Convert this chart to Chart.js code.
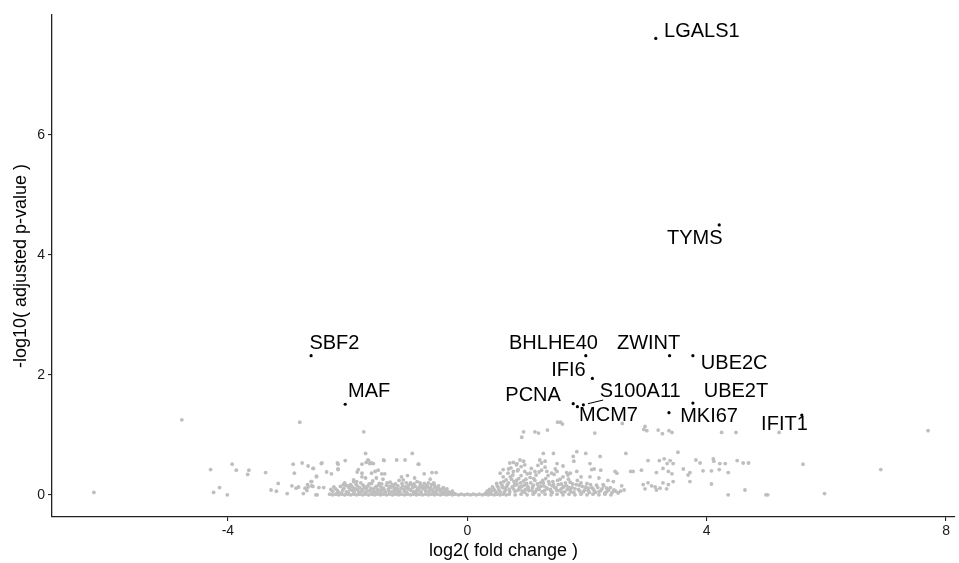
<!DOCTYPE html>
<html>
<head>
<meta charset="utf-8">
<title>Volcano plot</title>
<script src="https://cdn.jsdelivr.net/npm/chart.js@4.4.1/dist/chart.umd.min.js"></script>
<style>
  html, body { margin: 0; padding: 0; background: #fff; }
  #wrap { width: 959px; height: 563px; }
</style>
</head>
<body>
<div id="wrap"><canvas id="volcano"></canvas></div>
<script>
// axis ticks
const xTicks = [-4, 0, 4, 8];
const yTicks = [0, 2, 4, 6];

// labelled genes: [log2FC, -log10 padj]
const geneNames = ['LGALS1', 'TYMS', 'SBF2', 'MAF', 'BHLHE40', 'ZWINT', 'UBE2C', 'IFI6',
                   'PCNA', 'MCM7', 'S100A11', 'UBE2T', 'MKI67', 'IFIT1'];
const geneX = [3.15, 4.21, -2.61, -2.04, 1.98, 3.38, 3.77, 2.09, 1.77, 1.84, 1.94, 3.77, 3.37, 5.59];
const geneY = [7.61, 4.50, 2.32, 1.51, 2.32, 2.32, 2.32, 1.94, 1.52, 1.47, 1.50, 1.53, 1.37, 1.33];
// where the repelled labels ended up (centre, data units)
const labelX = [3.92, 3.80, -2.22, -1.64, 1.44, 3.03, 4.46, 1.69, 1.10, 2.36, 2.89, 4.49, 4.04, 5.30];
const labelY = [7.73, 4.27, 2.52, 1.72, 2.52, 2.52, 2.19, 2.08, 1.65, 1.33, 1.73, 1.73, 1.30, 1.18];
const labelSegment = [false, false, false, false, false, false, false, false,
                      false, false, true, false, false, false];

// non-significant genes, sparse ones
const sparsePts = [
  [-6.24, 0.04], [-4.77, 1.25], [-2.80, 1.21], [-1.73, 1.05],
  [-4.29, 0.42], [-3.93, 0.51], [-3.86, 0.41], [-3.65, 0.41], [-3.67, 0.34], [-3.37, 0.37],
  [-4.24, 0.04], [-4.14, 0.12], [-4.01, 0.00], [-3.28, 0.08], [-3.19, 0.06], [-3.16, 0.19], [-3.01, 0.02],
  [-2.91, 0.51], [-2.89, 0.36], [-2.76, 0.53], [-2.66, 0.48], [-2.58, 0.44], [-2.52, 0.30], [-2.61, 0.22],
  [-2.93, 0.15], [-2.86, 0.11], [-2.82, 0.13], [-2.71, 0.11], [-2.66, 0.13], [-2.60, 0.15], [-2.68, 0.07],
  [-2.74, 0.02], [-2.53, 0.00], [-2.44, 0.52], [-2.16, 0.51], [-2.04, 0.57], [-1.70, 0.69], [-1.66, 0.58],
  [-1.69, 0.54], [-1.60, 0.53], [-1.40, 0.58], [-1.18, 0.58], [-1.04, 0.58], [-0.92, 0.69], [-0.82, 0.51],
  [-2.43, 0.53], [-2.17, 0.53], [-1.39, 0.57], [-1.65, 0.57], [-1.63, 0.52], [-1.57, 0.52], [-1.76, 0.51],
  [-0.81, 0.51], [-2.57, 0.44], [-2.16, 0.42], [-2.35, 0.38], [-2.27, 0.35], [-2.52, 0.31], [-1.82, 0.42],
  [-1.76, 0.36], [-1.60, 0.36], [-1.54, 0.39], [-1.49, 0.41], [-1.43, 0.35], [-1.38, 0.35], [-1.00, 0.32],
  [-1.07, 0.25], [-0.72, 0.35], [-0.59, 0.37], [-0.52, 0.37], [-1.90, 0.22], [-2.07, 0.17], [-2.60, 0.22],
  [-2.67, 0.17], [-2.58, 0.14], [-2.48, 0.12], [-2.40, 0.12], [-2.51, 0.00], [-1.84, 0.38], [-2.16, 0.43],
  [1.51, 1.21], [1.56, 1.21], [1.59, 1.18], [0.94, 1.05], [0.91, 0.96], [1.13, 1.05], [1.19, 1.03],
  [1.34, 1.08], [2.13, 1.03], [2.59, 1.19], [2.95, 1.09],
  [1.27, 0.69], [1.44, 0.69], [1.83, 0.72], [1.98, 0.69], [2.22, 0.64], [2.65, 0.69],
  [0.88, 0.58], [0.94, 0.56], [0.96, 0.50], [0.71, 0.53], [0.77, 0.54], [0.83, 0.52],
  [1.21, 0.58], [1.24, 0.53], [1.30, 0.56], [1.50, 0.52], [1.77, 0.64], [1.78, 0.56],
  [2.05, 0.52], [2.08, 0.42], [2.12, 0.43], [2.23, 0.41], [2.47, 0.39], [2.50, 0.36], [2.73, 0.39],
  [1.83, 0.39], [1.72, 0.36], [1.50, 0.39], [1.66, 0.37],
  [0.55, 0.36], [0.60, 0.42], [0.69, 0.43], [0.77, 0.39], [0.85, 0.42], [0.96, 0.39], [1.05, 0.36],
  [1.13, 0.39], [1.24, 0.41], [1.33, 0.39], [1.41, 0.36],
  [2.58, 0.15], [2.62, 0.08], [2.44, 0.22], [2.27, 0.17], [2.33, 0.11],
  [2.97, 1.14], [3.00, 1.07], [3.19, 1.08], [3.26, 1.02], [3.37, 1.07], [3.42, 1.04], [4.25, 1.04], [4.49, 1.04],
  [3.52, 0.71], [3.02, 0.57], [3.21, 0.57], [3.29, 0.60], [3.34, 0.52], [3.44, 0.52], [3.39, 0.57],
  [3.82, 0.58], [3.89, 0.53], [4.11, 0.60], [4.12, 0.56], [4.22, 0.52], [4.31, 0.52], [4.51, 0.57],
  [4.61, 0.53], [4.70, 0.53],
  [2.77, 0.39], [2.91, 0.41], [3.16, 0.37], [3.27, 0.44], [3.36, 0.39], [3.42, 0.35], [3.61, 0.43],
  [3.72, 0.37], [3.69, 0.33], [3.94, 0.40], [4.08, 0.40], [4.21, 0.42], [4.36, 0.37],
  [2.94, 0.17], [3.02, 0.20], [3.08, 0.15], [3.14, 0.13], [2.97, 0.10], [3.22, 0.11], [3.27, 0.20],
  [3.36, 0.17], [3.44, 0.22], [3.33, 0.10], [3.16, 0.08], [3.72, 0.22], [4.08, 0.18],
  [4.36, 0.00], [4.64, 0.08], [4.99, 0.00], [5.02, 0.00], [5.97, 0.02], [5.61, 0.51], [6.91, 0.42],
  [7.70, 1.07], [5.21, 1.04]
];

// dense cloud of genes near zero
const densePts = [
  [-2.25, 0.06], [-2.20, 0.10], [-2.15, 0.04], [-2.12, 0.14], [-2.08, 0.08], [-2.05, 0.20], [-2.02, 0.05],
  [-1.98, 0.12], [-1.95, 0.17], [-1.92, 0.07], [-1.90, 0.25], [-1.87, 0.10], [-1.84, 0.15], [-1.81, 0.04],
  [-1.78, 0.20], [-1.75, 0.09], [-1.72, 0.13], [-1.70, 0.28], [-1.67, 0.06], [-1.64, 0.18], [-1.61, 0.11],
  [-1.58, 0.23], [-1.55, 0.05], [-1.52, 0.14], [-1.50, 0.09], [-1.47, 0.19], [-1.44, 0.12], [-1.41, 0.26],
  [-1.38, 0.07], [-1.35, 0.16], [-1.32, 0.10], [-1.29, 0.21], [-1.26, 0.05], [-1.23, 0.13], [-1.20, 0.18],
  [-1.17, 0.08], [-1.14, 0.24], [-1.11, 0.11], [-1.08, 0.15], [-1.05, 0.06], [-1.02, 0.20], [-0.99, 0.12],
  [-0.96, 0.09], [-0.93, 0.17], [-0.90, 0.05], [-0.87, 0.14], [-0.84, 0.22], [-0.81, 0.08], [-0.78, 0.16],
  [-0.75, 0.11], [-0.72, 0.19], [-0.69, 0.06], [-0.66, 0.13], [-0.63, 0.09], [-0.60, 0.17], [-0.57, 0.05],
  [-0.54, 0.12], [-0.51, 0.08], [-0.48, 0.15], [-0.45, 0.06], [-0.42, 0.10], [-0.39, 0.04], [-0.36, 0.08],
  [-0.33, 0.03], [-2.18, 0.02], [-2.00, 0.15], [-1.85, 0.22], [-1.60, 0.03], [-1.45, 0.04], [-1.30, 0.14],
  [-1.15, 0.03], [-1.00, 0.10], [-0.85, 0.03], [-0.70, 0.12], [-0.55, 0.16], [-1.90, 0.11], [-1.68, 0.12],
  [-1.42, 0.08], [-1.22, 0.09], [-0.95, 0.20], [-0.80, 0.13], [-0.65, 0.20], [-0.50, 0.10], [-1.76, 0.30],
  [-1.52, 0.28], [-1.10, 0.30], [-0.88, 0.28], [-0.62, 0.26],
  [-2.28, 0.09], [-2.23, 0.13], [-2.17, 0.07], [-2.10, 0.03], [-2.06, 0.11], [-2.03, 0.16], [-1.99, 0.04],
  [-1.96, 0.09], [-1.93, 0.14], [-1.89, 0.05], [-1.86, 0.18], [-1.83, 0.08], [-1.80, 0.12], [-1.77, 0.06],
  [-1.74, 0.16], [-1.71, 0.04], [-1.69, 0.10], [-1.66, 0.15], [-1.63, 0.07], [-1.60, 0.19], [-1.57, 0.09],
  [-1.54, 0.12], [-1.51, 0.05], [-1.48, 0.16], [-1.46, 0.07], [-1.43, 0.18], [-1.40, 0.11], [-1.37, 0.04],
  [-1.34, 0.20], [-1.31, 0.06], [-1.28, 0.12], [-1.25, 0.17], [-1.21, 0.05], [-1.18, 0.11], [-1.16, 0.15],
  [-1.13, 0.06], [-1.09, 0.19], [-1.06, 0.09], [-1.03, 0.13], [-1.01, 0.04], [-0.98, 0.16], [-0.94, 0.07],
  [-0.91, 0.12], [-0.89, 0.18], [-0.86, 0.06], [-0.83, 0.10], [-0.79, 0.20], [-0.77, 0.05], [-0.74, 0.14],
  [-0.71, 0.09], [-0.68, 0.16], [-0.64, 0.05], [-0.61, 0.12], [-0.58, 0.08], [-0.56, 0.20], [-0.53, 0.04],
  [-0.49, 0.13], [-0.46, 0.09], [-0.43, 0.05], [-0.40, 0.12], [-0.37, 0.06], [-0.34, 0.10], [-0.31, 0.05],
  [-0.28, 0.03], [-0.25, 0.06], [-0.22, 0.02],
  [0.35, 0.03], [0.40, 0.06], [0.44, 0.10], [0.48, 0.04], [0.50, 0.15], [0.53, 0.08], [0.56, 0.20],
  [0.59, 0.12], [0.62, 0.05], [0.65, 0.25], [0.67, 0.17], [0.70, 0.09], [0.72, 0.30], [0.75, 0.13],
  [0.78, 0.22], [0.80, 0.06], [0.83, 0.18], [0.86, 0.27], [0.88, 0.10], [0.91, 0.14], [0.94, 0.23],
  [0.96, 0.04], [0.99, 0.19], [1.02, 0.11], [1.05, 0.29], [1.08, 0.07], [1.10, 0.16], [1.13, 0.24],
  [1.16, 0.09], [1.19, 0.13], [1.22, 0.20], [1.25, 0.05], [1.28, 0.15], [1.31, 0.27], [1.34, 0.10],
  [1.37, 0.18], [1.40, 0.06], [1.43, 0.22], [1.46, 0.12], [1.49, 0.08], [1.52, 0.17], [1.55, 0.26],
  [1.58, 0.04], [1.61, 0.14], [1.64, 0.20], [1.67, 0.09], [1.70, 0.12], [1.73, 0.05], [1.76, 0.18],
  [1.80, 0.10], [1.84, 0.24], [1.88, 0.06], [1.92, 0.14], [1.96, 0.08], [2.00, 0.19], [2.04, 0.04],
  [2.08, 0.12], [2.12, 0.07], [2.16, 0.16], [2.20, 0.05], [2.25, 0.10], [2.30, 0.03], [2.36, 0.08],
  [2.42, 0.04], [2.48, 0.06], [0.60, 0.30], [0.68, 0.36], [0.76, 0.33], [0.84, 0.40], [0.90, 0.32],
  [1.00, 0.35], [1.15, 0.33], [1.20, 0.38], [1.35, 0.32], [1.45, 0.34], [1.60, 0.30], [1.68, 0.33],
  [1.90, 0.30], [2.05, 0.30], [2.20, 0.28], [2.35, 0.24], [0.63, 0.11], [0.80, 0.16], [0.97, 0.09],
  [1.12, 0.04], [1.27, 0.20], [1.42, 0.15], [1.57, 0.10], [1.72, 0.21], [1.87, 0.16], [2.02, 0.11],
  [0.73, 0.45], [0.82, 0.50], [0.90, 0.47], [1.07, 0.44], [1.18, 0.49], [1.30, 0.46], [1.47, 0.43], [1.60, 0.48],
  [0.30, 0.02], [0.33, 0.06], [0.37, 0.09], [0.42, 0.13], [0.46, 0.07], [0.49, 0.19], [0.52, 0.12],
  [0.55, 0.05], [0.58, 0.16], [0.61, 0.22], [0.64, 0.08], [0.66, 0.14], [0.69, 0.20], [0.71, 0.05],
  [0.74, 0.26], [0.77, 0.10], [0.79, 0.17], [0.82, 0.24], [0.85, 0.08], [0.87, 0.13], [0.89, 0.20],
  [0.92, 0.06], [0.95, 0.16], [0.98, 0.26], [1.01, 0.14], [1.03, 0.07], [1.06, 0.20], [1.09, 0.12],
  [1.11, 0.27], [1.14, 0.05], [1.17, 0.18], [1.20, 0.09], [1.23, 0.14], [1.26, 0.24], [1.29, 0.07],
  [1.32, 0.12], [1.36, 0.22], [1.39, 0.09], [1.42, 0.04], [1.44, 0.17], [1.48, 0.12], [1.51, 0.24],
  [1.54, 0.07], [1.57, 0.18], [1.60, 0.12], [1.63, 0.05], [1.66, 0.15], [1.69, 0.26], [1.72, 0.08],
  [1.75, 0.12], [1.78, 0.04], [1.82, 0.17], [1.86, 0.09], [1.90, 0.20], [1.94, 0.05], [1.98, 0.13],
  [2.02, 0.07], [2.06, 0.17], [2.10, 0.10], [2.14, 0.04], [2.18, 0.12], [2.23, 0.07], [2.28, 0.15],
  [2.33, 0.05], [2.39, 0.12], [2.45, 0.08], [2.52, 0.03], [2.56, 0.06]
];

// the pile of genes with padj ~ 1
const baselinePts = [
  [-2.30, 0.01], [-2.25, 0.00], [-2.20, 0.01], [-2.15, 0.00], [-2.10, 0.01], [-2.05, 0.00], [-2.00, 0.01],
  [-1.95, 0.00], [-1.90, 0.01], [-1.85, 0.00], [-1.80, 0.01], [-1.75, 0.00], [-1.70, 0.01], [-1.65, 0.00],
  [-1.60, 0.01], [-1.55, 0.00], [-1.50, 0.01], [-1.45, 0.00], [-1.40, 0.01], [-1.35, 0.00], [-1.30, 0.01],
  [-1.25, 0.00], [-1.20, 0.01], [-1.15, 0.00], [-1.10, 0.01], [-1.05, 0.00], [-1.00, 0.01], [-0.95, 0.00],
  [-0.90, 0.01], [-0.85, 0.00], [-0.80, 0.01], [-0.75, 0.00], [-0.70, 0.01], [-0.65, 0.00], [-0.60, 0.01],
  [-0.55, 0.00], [-0.50, 0.01], [-0.45, 0.00], [-0.40, 0.01], [-0.35, 0.00], [-0.30, 0.01], [-0.25, 0.00],
  [-0.20, 0.01], [-0.15, 0.00], [-0.10, 0.01], [-0.05, 0.00], [0.00, 0.01], [0.05, 0.00], [0.10, 0.01],
  [0.15, 0.00], [0.20, 0.01], [0.25, 0.00], [0.30, 0.01], [0.35, 0.00], [0.40, 0.01], [0.45, 0.00],
  [0.50, 0.01], [0.55, 0.00], [0.60, 0.01], [0.65, 0.00], [0.70, 0.01], [0.80, 0.00], [0.90, 0.01],
  [1.00, 0.00], [1.10, 0.01], [1.20, 0.00], [1.30, 0.01], [1.40, 0.00], [1.50, 0.01], [1.60, 0.00],
  [1.70, 0.01], [1.80, 0.00], [1.90, 0.01], [2.00, 0.00], [2.10, 0.01], [2.20, 0.00], [2.30, 0.01], [2.40, 0.00]
];

const toXY = arr => arr.map(p => ({ x: p[0], y: p[1] }));

const geneLabels = {
  id: 'geneLabels',
  afterDatasetsDraw(chart) {
    const { ctx, scales: { x, y } } = chart;
    ctx.save();
    ctx.font = '20px "Liberation Sans", Arial, sans-serif';
    ctx.fillStyle = '#000';
    ctx.strokeStyle = '#000';
    ctx.lineWidth = 1;
    ctx.textAlign = 'center';
    ctx.textBaseline = 'middle';
    geneNames.forEach((name, i) => {
      const lx = x.getPixelForValue(labelX[i]);
      const ly = y.getPixelForValue(labelY[i]);
      if (labelSegment[i]) {
        // short leader from the point to the label box, like ggrepel
        const px = x.getPixelForValue(geneX[i]);
        const py = y.getPixelForValue(geneY[i]);
        const hw = ctx.measureText(name).width / 2 + 1;
        const hh = 9;
        const dx = lx - px, dy = ly - py;
        const t = 1 - Math.min(hw / Math.abs(dx || 1e-6), hh / Math.abs(dy || 1e-6));
        ctx.beginPath();
        ctx.moveTo(px + dx * 0.08, py + dy * 0.08);
        ctx.lineTo(px + dx * t, py + dy * t);
        ctx.stroke();
      }
      ctx.fillText(name, lx, ly);
    });
    ctx.restore();
  }
};

new Chart(document.getElementById('volcano'), {
  type: 'scatter',
  data: {
    datasets: [
      { label: 'baseline', data: toXY(baselinePts), backgroundColor: '#bebebe', pointRadius: 1.9, borderWidth: 0 },
      { label: 'dense', data: toXY(densePts), backgroundColor: '#bebebe', pointRadius: 1.9, borderWidth: 0 },
      { label: 'sparse', data: toXY(sparsePts), backgroundColor: '#bebebe', pointRadius: 1.9, borderWidth: 0 },
      {
        label: 'significant',
        data: geneX.map((v, i) => ({ x: v, y: geneY[i] })),
        backgroundColor: '#000', pointRadius: 1.6, borderWidth: 0
      }
    ]
  },
  options: {
    responsive: true,
    maintainAspectRatio: false,
    animation: false,
    events: [],
    layout: { padding: { top: 15, right: 4, left: 0, bottom: 0 } },
    plugins: { legend: { display: false }, tooltip: { enabled: false } },
    scales: {
      x: {
        type: 'linear',
        min: -6.94,
        max: 8.15,
        afterFit: s => { s.height = 46; },
        afterBuildTicks: s => { s.ticks = xTicks.map(v => ({ value: v })); },
        border: { color: '#222', width: 1.3 },
        grid: { drawOnChartArea: false, drawTicks: true, tickLength: 4, color: '#222', lineWidth: 1.1 },
        ticks: { color: '#1a1a1a', padding: 2, font: { family: '"Liberation Sans", Arial, sans-serif', size: 14 } },
        title: {
          display: true, text: 'log2( fold change )', color: '#000',
          padding: { top: 0, bottom: 1 },
          font: { family: '"Liberation Sans", Arial, sans-serif', size: 18 }
        }
      },
      y: {
        type: 'linear',
        min: -0.37,
        max: 8.0,
        afterFit: s => { s.width = 52; },
        afterBuildTicks: s => { s.ticks = yTicks.map(v => ({ value: v })); },
        border: { color: '#222', width: 1.3 },
        grid: { drawOnChartArea: false, drawTicks: true, tickLength: 4, color: '#222', lineWidth: 1.1 },
        ticks: { color: '#1a1a1a', padding: 3, font: { family: '"Liberation Sans", Arial, sans-serif', size: 14 } },
        title: {
          display: true, text: '-log10( adjusted p-value )', color: '#000',
          padding: { top: 10, bottom: 0 },
          font: { family: '"Liberation Sans", Arial, sans-serif', size: 18 }
        }
      }
    }
  },
  plugins: [geneLabels]
});
</script>
</body>
</html>
